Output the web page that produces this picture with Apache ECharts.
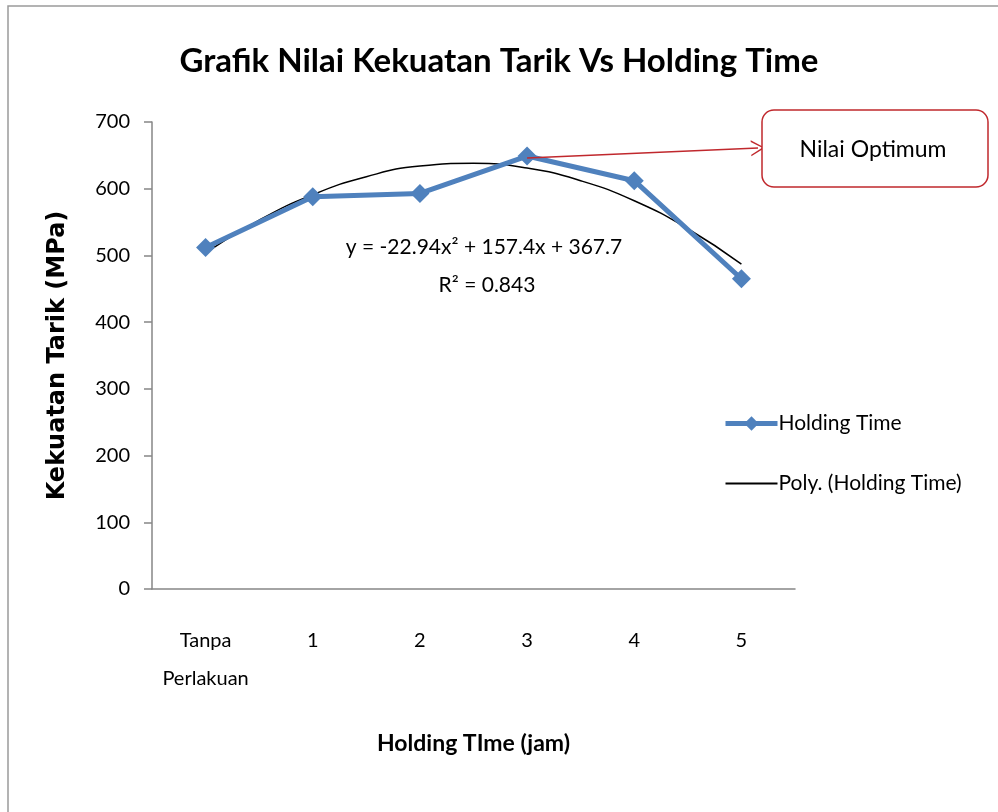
<!DOCTYPE html>
<html>
<head>
<meta charset="utf-8">
<script src="https://cdn.jsdelivr.net/npm/echarts@6/dist/echarts.min.js"></script>
<style>
  html, body { margin: 0; padding: 0; background: #fff; }
  #chart { width: 998px; height: 812px; }
</style>
</head>
<body>
<div id="chart"></div>
<script>
const categories = ['Tanpa\nPerlakuan', '1', '2', '3', '4', '5']
const holdingTime = [512, 588, 593, 649, 612, 465]
// trendline, x in category steps (0 = Tanpa Perlakuan)
const trendX = [0, 0.5, 1, 1.5, 2, 2.5, 3, 3.5, 4, 4.5, 5]
const trendY = [504, 553, 591, 618, 634, 638, 631, 612, 582, 540, 487]
const yTicks = { min: 0, max: 700, interval: 100 }
const optimumIndex = 3

const chart = echarts.init(document.getElementById('chart'))
const fontMain = 'Lato, "Open Sans", sans-serif'

const option = {
  animation: false,
  backgroundColor: '#fff',
  title: {
    text: 'Grafik Nilai Kekuatan Tarik Vs Holding Time',
    left: 'center',
    top: 40,
    textStyle: { fontFamily: fontMain, fontSize: 33, fontWeight: 'bold', color: '#000' }
  },
  grid: { left: 152, right: 203, top: 122, bottom: 223 },
  legend: {
    orient: 'vertical',
    left: 718,
    top: 408,
    itemGap: 39,
    itemWidth: 52,
    itemHeight: 18,
    textStyle: { fontFamily: fontMain, fontSize: 21, color: '#000', padding: [0, 0, 0, -4] },
    data: [
      { name: 'Holding Time', lineStyle: { width: 5 } },
      { name: 'Poly. (Holding Time)', icon: 'path://M0,0 L52,0 L52,2 L0,2 Z', itemStyle: { color: '#000' } }
    ]
  },
  xAxis: [
    {
      type: 'category',
      data: categories,
      name: 'Holding TIme (jam)',
      nameLocation: 'middle',
      nameGap: 143,
      nameTextStyle: { fontFamily: fontMain, fontSize: 23, fontWeight: 'bold', color: '#000' },
      axisLine: { onZero: false, lineStyle: { color: '#868686', width: 1.5 } },
      axisTick: { show: false },
      axisLabel: { interval: 0, margin: 33, fontFamily: fontMain, fontSize: 20, lineHeight: 38, color: '#000' }
    },
    {
      type: 'value',
      min: -0.5,
      max: 5.5,
      show: false
    }
  ],
  yAxis: {
    type: 'value',
    min: yTicks.min,
    max: yTicks.max,
    interval: yTicks.interval,
    name: 'Kekuatan Tarik (MPa)',
    nameLocation: 'middle',
    nameGap: 82,
    nameTextStyle: { fontFamily: '"DejaVu Sans", sans-serif', fontSize: 24, fontWeight: 'bold', color: '#000' },
    axisLine: { show: true, onZero: false, lineStyle: { color: '#868686', width: 1.5 } },
    axisTick: { show: true, length: 8, lineStyle: { color: '#868686', width: 1.5 } },
    splitLine: { show: false },
    axisLabel: { margin: 22, fontFamily: fontMain, fontSize: 20, color: '#000' }
  },
  series: [
    {
      name: 'Holding Time',
      type: 'line',
      data: holdingTime,
      symbol: 'diamond',
      symbolSize: 19,
      color: '#4F81BD',
      lineStyle: { width: 5, color: '#4F81BD' },
      z: 3,
      markLine: {
        silent: true,
        symbol: ['none', 'path://M0,10 L5,0 L10,10 L9,10 L5,2 L1,10 Z'],
        symbolSize: [16, 14],
        label: { show: false },
        lineStyle: { color: '#C0282D', width: 1.5, type: 'solid' },
        data: [[
          { coord: [optimumIndex, holdingTime[optimumIndex] - 3] },
          { x: 758, y: 148 }
        ]]
      }
    },
    {
      name: 'Poly. (Holding Time)',
      type: 'line',
      xAxisIndex: 1,
      data: trendX.map((x, i) => [x, trendY[i]]),
      smooth: true,
      symbol: 'none',
      color: '#000',
      lineStyle: { width: 1.5, color: '#000' },
      z: 2
    }
  ],
  graphic: [
    {
      type: 'rect',
      shape: { x: 8, y: 6, width: 1200, height: 1200 },
      style: { fill: 'none', stroke: '#9a9a9a', lineWidth: 1.5 },
      z: -1,
      silent: true
    },
    {
      type: 'rect',
      shape: { x: 762, y: 110, width: 226, height: 77, r: 12 },
      style: { fill: '#fff', stroke: '#C0282D', lineWidth: 1.5 },
      z: 10
    },
    {
      type: 'text',
      x: 873,
      y: 150,
      style: { text: 'Nilai Optimum', fontFamily: fontMain, fontSize: 23, fill: '#000', align: 'center', verticalAlign: 'middle' },
      z: 11
    },
    {
      type: 'text',
      x: 484,
      y: 247,
      style: { text: 'y = -22.94x² + 157.4x + 367.7', fontFamily: fontMain, fontSize: 21, fill: '#000', align: 'center', verticalAlign: 'middle' },
      z: 11
    },
    {
      type: 'text',
      x: 487,
      y: 285,
      style: { text: 'R² = 0.843', fontFamily: fontMain, fontSize: 21, fill: '#000', align: 'center', verticalAlign: 'middle' },
      z: 11
    }
  ]
}

chart.setOption(option)
</script>
</body>
</html>
